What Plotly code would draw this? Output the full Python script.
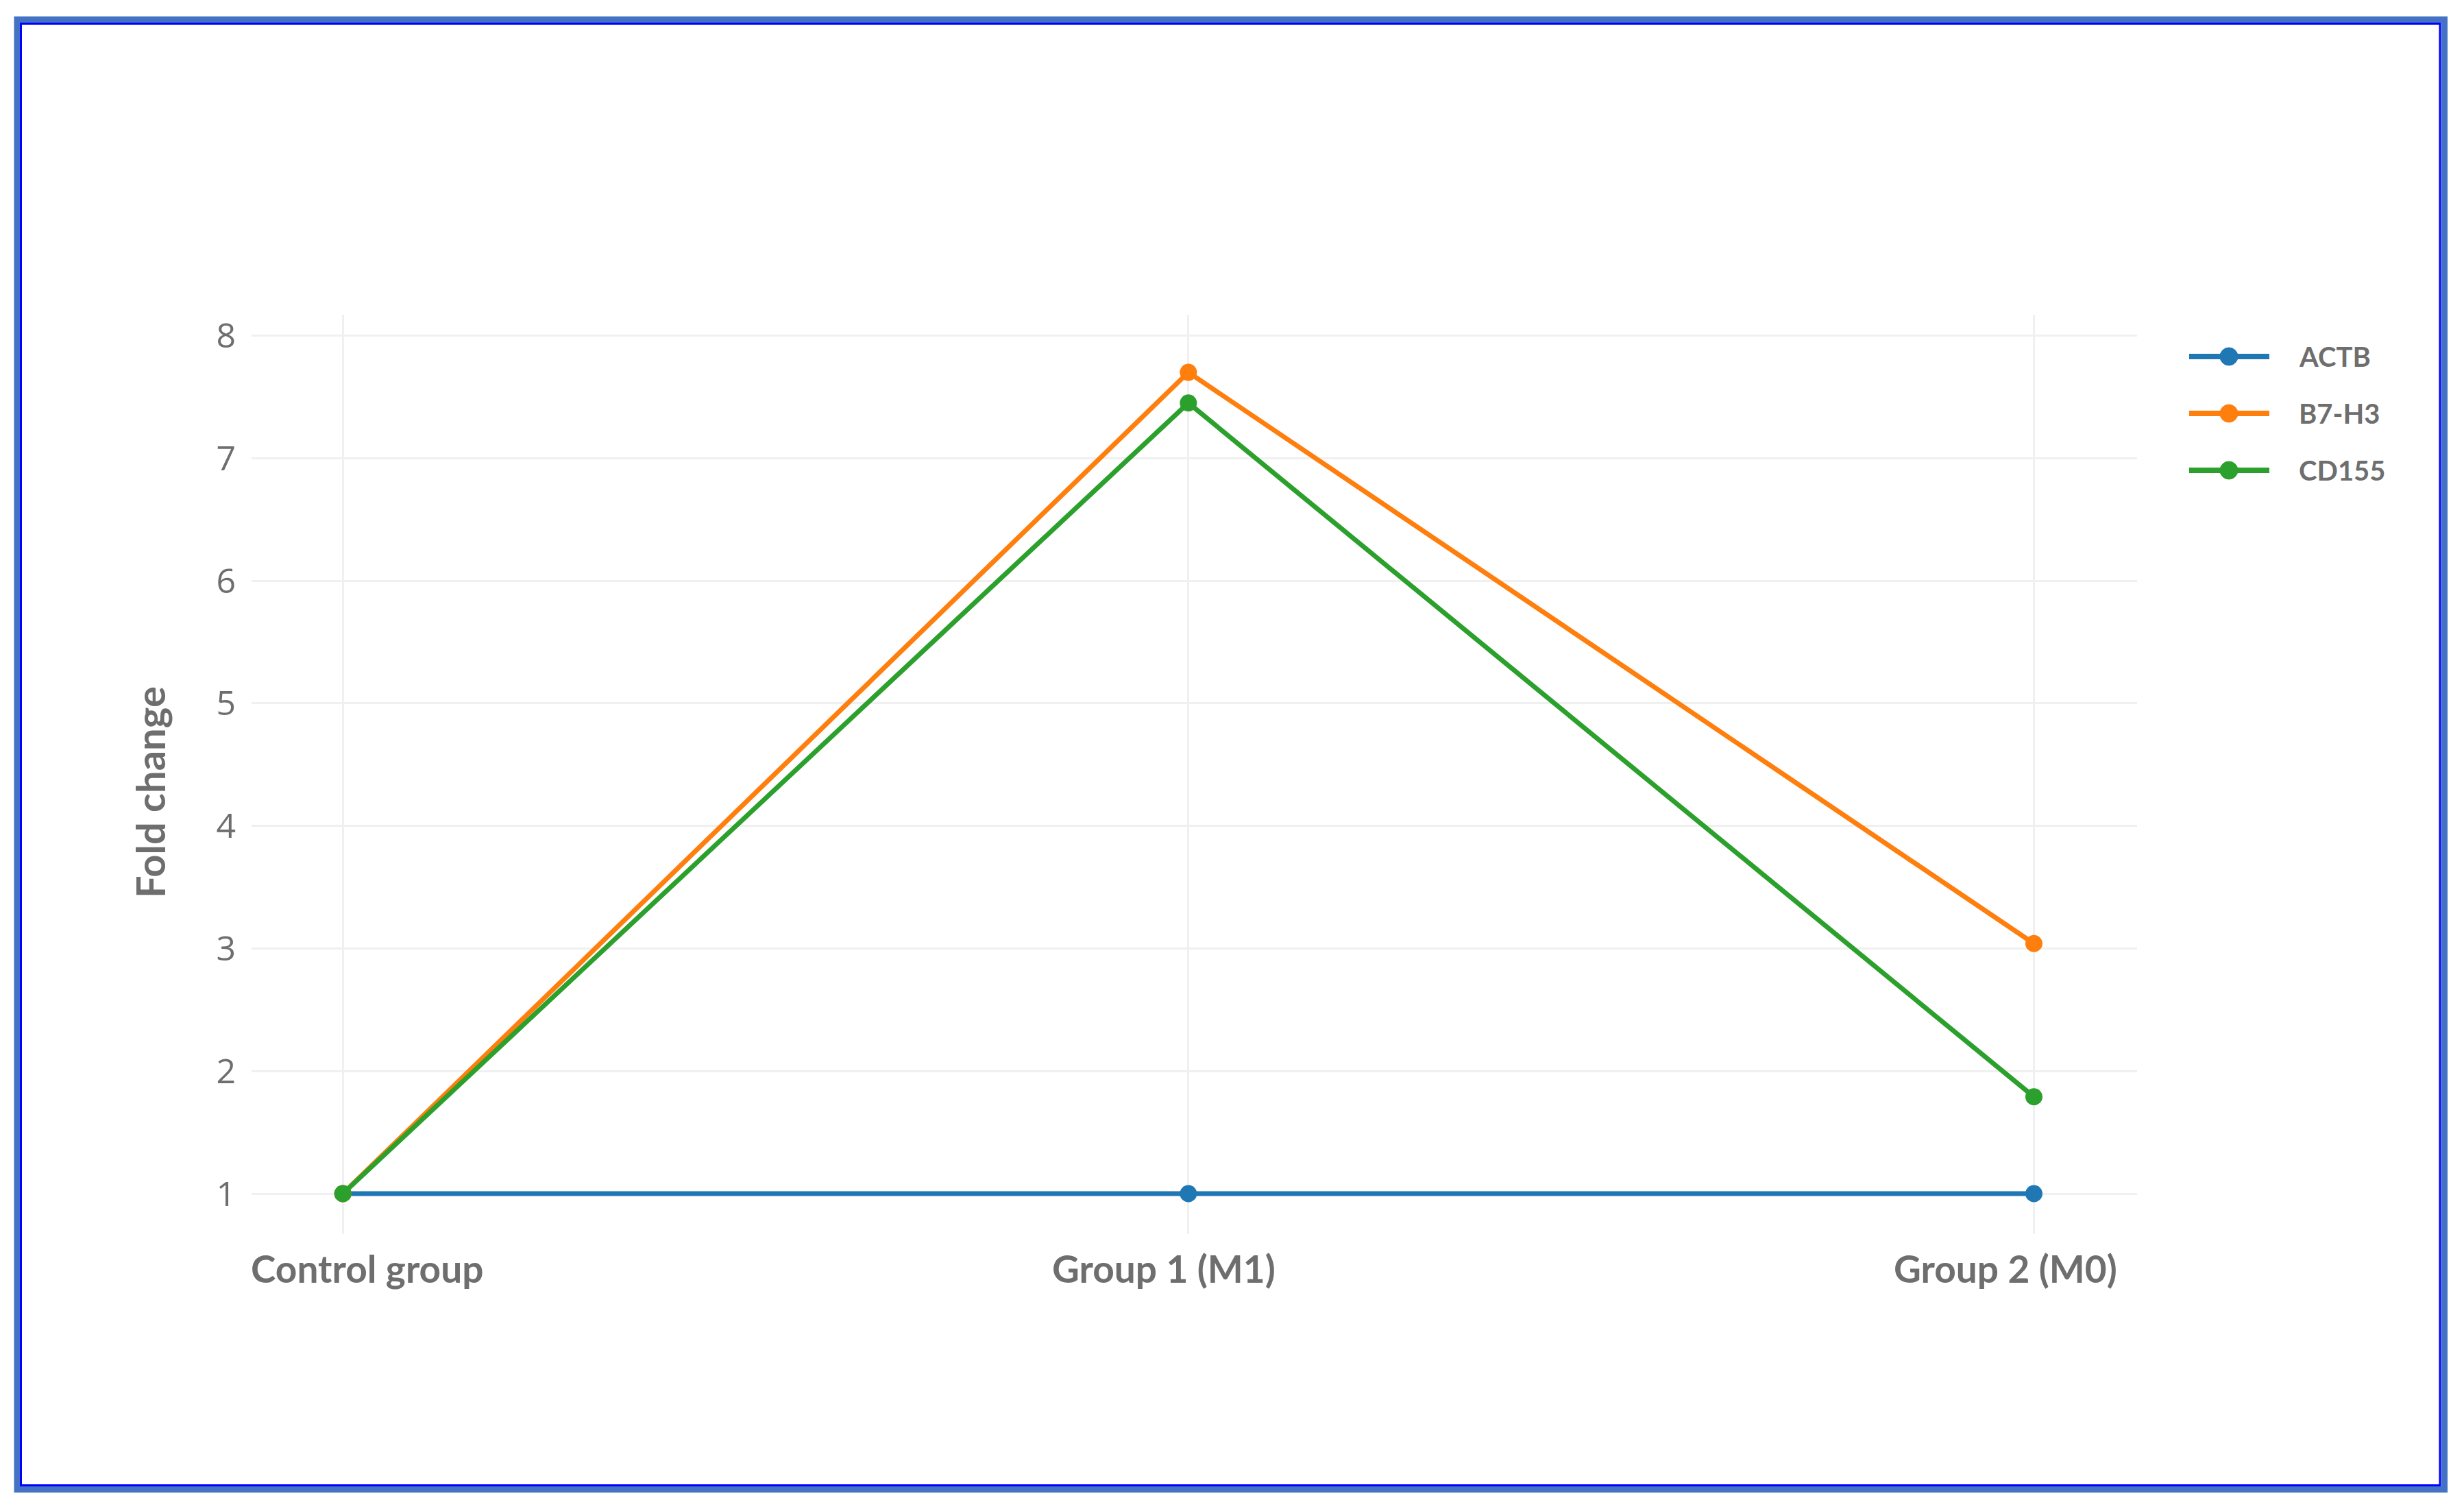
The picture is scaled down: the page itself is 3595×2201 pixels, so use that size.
import plotly.graph_objects as go

# data
groups = ["Control group", "Group 1 (M1)", "Group 2 (M0)"]
series_names = ["ACTB", "B7-H3", "CD155"]
actb = [1, 1, 1]
b7h3 = [1, 7.7, 3.04]
cd155 = [1, 7.45, 1.79]
y_ticks = [1, 2, 3, 4, 5, 6, 7, 8]
colors = ["#1f77b4", "#ff7f0e", "#2ca02c"]

# page body has an 8px margin, so the figure is a bit smaller and shifted
OFF = 8
W, H = 3595 - 2 * OFF, 2201 - 2 * OFF
# plot area in screen pixels
L, R, T, B = 367, 3118, 459, 1800


def px(x):
    return (x - L) / (R - L)


def py(y):
    return (B - y) / (B - T)


fig = go.Figure()
for name, vals, col in zip(series_names, [actb, b7h3, cd155], colors):
    fig.add_trace(go.Scatter(
        x=groups, y=vals, name=name, mode="lines+markers",
        line=dict(color=col, width=7),
        marker=dict(color=col, size=25),
        showlegend=False,
    ))

grey = "#6e6e6e"

fig.update_xaxes(
    type="category", range=[-0.108, 2.122],
    showgrid=True, gridcolor="#f0f0f0", gridwidth=3,
    zeroline=False, showline=False,
    showticklabels=False,
)
fig.update_yaxes(
    range=[0.67, 8.17], tickvals=y_ticks,
    showgrid=True, gridcolor="#f0f0f0", gridwidth=3,
    zeroline=False, showline=False,
    tickfont=dict(family="Open Sans", size=50, color=grey),
    ticklabelstandoff=22,
)

shapes = []
annotations = []

# category labels sit slightly off-centre in the original
label_shift = [35, -36, -42]
for g, s in zip(groups, label_shift):
    annotations.append(dict(text=f"<b>{g}</b>", xref="x", yref="paper",
                            x=g, y=py(1850), xshift=s,
                            xanchor="center", yanchor="middle", showarrow=False,
                            font=dict(family="Lato", size=55, color=grey)))

# legend drawn by hand so the symbols match the reference size
row_y = [520, 603, 686]
for name, col, yy in zip(series_names, colors, row_y):
    shapes.append(dict(type="line", xref="paper", yref="paper",
                       x0=px(3194), x1=px(3311), y0=py(yy), y1=py(yy),
                       line=dict(color=col, width=8)))
    shapes.append(dict(type="circle", xref="paper", yref="paper",
                       x0=px(3239), x1=px(3265), y0=py(yy - 13), y1=py(yy + 13),
                       fillcolor=col, line=dict(color=col, width=1)))
    annotations.append(dict(text=f"<b>{name}</b>", xref="paper", yref="paper",
                            x=px(3352), y=py(yy), xanchor="left", yanchor="middle",
                            showarrow=False, font=dict(family="Lato", size=40, color=grey)))

annotations.append(dict(text="<b>Fold change</b>", xref="paper", yref="paper",
                        x=px(218), y=py(1156), textangle=-90,
                        xanchor="center", yanchor="middle", showarrow=False,
                        font=dict(family="Lato", size=58, color=grey)))

# double blue frame around the picture
shapes.append(dict(type="rect", xref="paper", yref="paper", layer="above",
                   x0=px(25), x1=px(3566.5), y0=py(28.5), y1=py(2172.5),
                   line=dict(color="#4472C4", width=9)))
shapes.append(dict(type="rect", xref="paper", yref="paper", layer="above",
                   x0=px(30.5), x1=px(3560), y0=py(34.5), y1=py(2166.5),
                   line=dict(color="#0000FF", width=3)))

fig.update_layout(
    width=W, height=H,
    margin=dict(l=L - OFF, r=W - (R - OFF), t=T - OFF, b=H - (B - OFF), autoexpand=False),
    plot_bgcolor="white", paper_bgcolor="white",
    showlegend=False,
    shapes=shapes, annotations=annotations,
)

fig.write_html("out.html")
